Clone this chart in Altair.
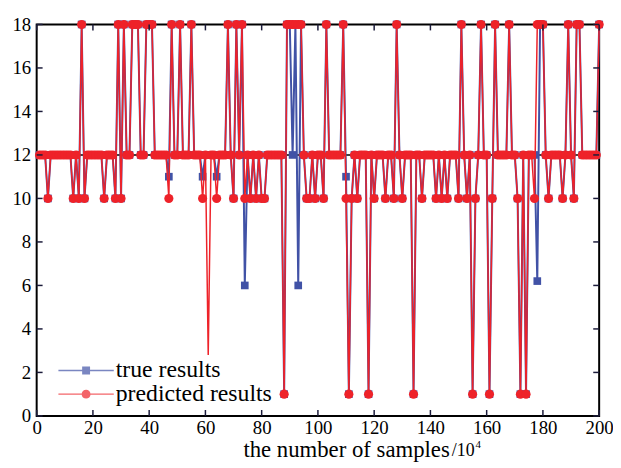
import altair as alt
import pandas as pd

# ---------------- data ----------------
series_names = ["true results", "predicted results"]
x_vals = list(range(1, 201))
pred_vals = [
    12, 12, 12, 10, 12, 12, 12, 12, 12, 12,
    12, 12, 10, 12, 10, 18, 10, 12, 12, 12,
    12, 12, 12, 10, 12, 12, 12, 10, 18, 10,
    18, 12, 12, 18, 18, 18, 12, 12, 18, 18,
    18, 12, 12, 12, 12, 12, 10, 18, 12, 12,
    18, 12, 12, 12, 18, 12, 12, 12, 10, 12,
    2.8, 12, 12, 10, 12, 12, 12, 18, 12, 10,
    18, 12, 18, 10, 12, 10, 12, 10, 12, 10,
    10, 12, 12, 12, 12, 12, 12, 1, 18, 18,
    18, 18, 18, 18, 12, 10, 10, 12, 10, 12,
    12, 10, 18, 12, 12, 12, 12, 12, 18, 10,
    1, 10, 12, 10, 12, 12, 12, 1, 12, 10,
    12, 12, 12, 10, 12, 12, 10, 18, 12, 10,
    12, 12, 12, 1, 12, 12, 10, 12, 12, 12,
    12, 10, 12, 10, 12, 10, 12, 12, 12, 10,
    18, 12, 10, 12, 1, 10, 12, 18, 12, 12,
    1, 10, 18, 12, 12, 12, 12, 18, 12, 12,
    10, 1, 12, 1, 12, 12, 10, 18, 18, 18,
    12, 10, 12, 12, 12, 12, 10, 12, 18, 12,
    10, 18, 18, 12, 12, 12, 12, 12, 12, 18,
]
true_vals = [
    12, 12, 12, 10, 12, 12, 12, 12, 12, 12,
    12, 12, 10, 12, 10, 18, 10, 12, 12, 12,
    12, 12, 12, 10, 12, 12, 12, 10, 18, 10,
    18, 12, 12, 18, 18, 18, 12, 12, 18, 18,
    18, 12, 12, 12, 12, 12, 11, 18, 12, 12,
    18, 12, 12, 12, 18, 12, 12, 12, 11, 12,
    12, 12, 12, 11, 12, 12, 12, 18, 12, 10,
    18, 12, 18, 6, 12, 10, 12, 10, 12, 10,
    10, 12, 12, 12, 12, 12, 12, 1, 18, 18,
    12, 18, 6, 18, 12, 10, 10, 12, 10, 12,
    12, 10, 18, 12, 12, 12, 12, 12, 18, 11,
    1, 10, 12, 10, 12, 12, 12, 1, 12, 10,
    12, 12, 12, 10, 12, 12, 10, 18, 12, 10,
    12, 12, 12, 1, 12, 12, 10, 12, 12, 12,
    12, 10, 12, 10, 12, 10, 12, 12, 12, 10,
    18, 12, 10, 12, 1, 10, 12, 18, 12, 12,
    1, 10, 18, 12, 12, 12, 12, 18, 12, 12,
    10, 1, 12, 1, 12, 12, 12, 6.2, 18, 18,
    12, 10, 12, 12, 12, 12, 10, 12, 18, 12,
    10, 18, 18, 12, 12, 12, 12, 12, 12, 18,
]
x_ticks = list(range(0, 201, 20))
y_ticks = list(range(0, 19, 2))
ref_level = [12]
x_title = "the number of samples"
x_unit = ["/10"]
x_unit_exp = ["4"]

# ---------------- style ----------------
BLUE = "#4152A6"
RED = "#EE2229"
FONT = "Liberation Serif, Times New Roman, DejaVu Serif, serif"
W, H = 569, 396

df = pd.DataFrame({"x": x_vals, "true": true_vals, "pred": pred_vals})

x_scale = alt.Scale(domain=[0, 200], nice=False, zero=False)
y_scale = alt.Scale(domain=[0, 18], nice=False)
x_axis = alt.Axis(values=x_ticks, title=x_title, ticks=False, tickSize=0, domain=False, grid=False,
                  labelFont=FONT, labelFontSize=19, labelPadding=3, labelColor="black", labelFlush=False,
                  titleFont=FONT, titleFontSize=23, titleFontWeight="normal", titleColor="black",
                  titleX=313, titleY=41, titleBaseline="alphabetic", titleAlign="center")
y_axis = alt.Axis(values=y_ticks, title=None, ticks=False, tickSize=0, domain=False, grid=False,
                  labelFont=FONT, labelFontSize=19, labelPadding=6, labelColor="black")

X = alt.X("x:Q", scale=x_scale, axis=x_axis)

base = alt.Chart(df)

ref = alt.Chart(pd.DataFrame({"y": ref_level})).mark_rule(color="black", strokeWidth=1.5).encode(
    y=alt.Y("y:Q", scale=y_scale, axis=y_axis))

true_line = base.mark_line(color=BLUE, strokeWidth=2.0).encode(
    x=X, y=alt.Y("true:Q", scale=y_scale, axis=y_axis))
true_pts = base.mark_point(shape="square", filled=True, color=BLUE, size=60, opacity=1).encode(
    x=X, y=alt.Y("true:Q", scale=y_scale, axis=y_axis))
pred_line = base.mark_line(color=RED, strokeWidth=1.5).encode(
    x=X, y=alt.Y("pred:Q", scale=y_scale, axis=y_axis))
pred_pts = base.transform_filter("datum.pred != 2.8").mark_point(
    shape="circle", filled=True, color=RED, size=85, opacity=1).encode(
    x=X, y=alt.Y("pred:Q", scale=y_scale, axis=y_axis))

xt = alt.Chart(pd.DataFrame({"x": x_ticks}))
yt = alt.Chart(pd.DataFrame({"y": y_ticks}))
TK = dict(color="#1b1b3a", strokeWidth=1.5)
tick_bottom = xt.mark_rule(**TK).encode(x=X, y=alt.value(H), y2=alt.value(H - 6))
tick_top = xt.mark_rule(**TK).encode(x=X, y=alt.value(0), y2=alt.value(6))
tick_left = yt.mark_rule(**TK).encode(y=alt.Y("y:Q", scale=y_scale, axis=y_axis), x=alt.value(0), x2=alt.value(6))
tick_right = yt.mark_rule(**TK).encode(y=alt.Y("y:Q", scale=y_scale, axis=y_axis), x=alt.value(W - 6), x2=alt.value(W))

# legend symbols: a thin bar (the line) plus the marker, all filled
sq_path = "M-5.6,-0.14L5.6,-0.14L5.6,0.14L-5.6,0.14ZM-0.8,-0.8L0.8,-0.8L0.8,0.8L-0.8,0.8Z"
ci_path = "M-5.6,-0.14L5.6,-0.14L5.6,0.14L-5.6,0.14ZM0.9,0A0.9,0.9,0,1,1,-0.9,0A0.9,0.9,0,1,1,0.9,0Z"
leg = alt.Legend(orient="none", legendX=38, legendY=338, title=None, labelFont=FONT, labelFontSize=24,
                 labelColor="black", symbolSize=100, symbolStrokeWidth=0, labelOffset=18,
                 rowPadding=-8, padding=0,
                 labelExpr="indexof(datum.label, 'true') == 0 ? '\u2002\u2002' + datum.label : datum.label")
# legend-only layer: its marks sit outside the drawing, only the legend is seen
legend_layer = alt.Chart(pd.DataFrame({"series": series_names})).mark_point(filled=True).encode(
    x=alt.value(-400), y=alt.value(-400),
    shape=alt.Shape("series:N", scale=alt.Scale(domain=series_names, range=[sq_path, ci_path]), legend=leg),
    color=alt.Color("series:N", scale=alt.Scale(domain=series_names, range=[BLUE, RED]), legend=leg),
)

unit = alt.Chart(pd.DataFrame({"t": x_unit})).mark_text(
    font=FONT, fontSize=18, align="left", baseline="alphabetic", color="black").encode(
    text="t:N", x=alt.value(420), y=alt.value(H + 41))
unit_exp = alt.Chart(pd.DataFrame({"t": x_unit_exp})).mark_text(
    font=FONT, fontSize=11, align="left", baseline="alphabetic", color="black").encode(
    text="t:N", x=alt.value(444), y=alt.value(H + 32))

chart = alt.layer(
    ref, true_line, true_pts, pred_line, pred_pts,
    tick_bottom, tick_top, tick_left, tick_right,
    legend_layer, unit, unit_exp,
).properties(
    width=W, height=H,
    padding={"left": 29, "top": 14, "right": 14, "bottom": 47},
    autosize=alt.AutoSizeParams(type="none"),
).configure_view(stroke="black", strokeWidth=2)

chart.save("out.html", embed_options={"renderer": "svg", "actions": False})
